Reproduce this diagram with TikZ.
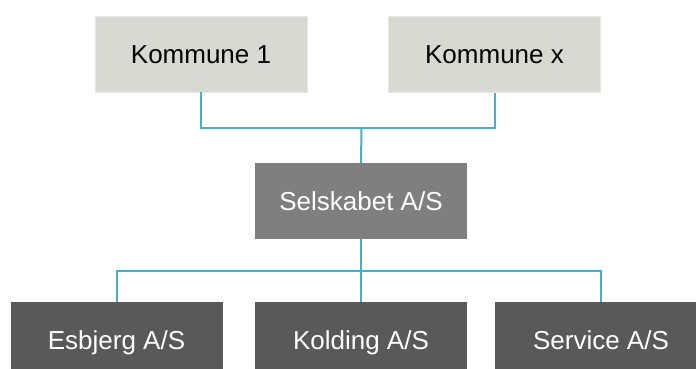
\documentclass[tikz,border=0pt]{standalone}
\usepackage{fontspec}
\setmainfont{Liberation Sans}
\definecolor{topfill}{HTML}{D9D9D3}
\definecolor{topline}{HTML}{E8E8E3}
\definecolor{midfill}{HTML}{7F7F7F}
\definecolor{botfill}{HTML}{595959}
\definecolor{linkblue}{HTML}{4BACC6}
\begin{document}
\begin{tikzpicture}[x=1pt,y=-1pt,
  box/.style={rectangle, minimum width=212pt, minimum height=76pt, inner sep=0pt,
    font=\fontsize{26}{30}\selectfont, text height=18.6pt, text depth=0pt},
  topbox/.style={box, fill=topfill, draw=topline, line width=0.8pt, text=black},
  midbox/.style={box, fill=midfill, text=white},
  botbox/.style={box, fill=botfill, text=white},
  link/.style={draw=linkblue, line width=2pt}]
\useasboundingbox (0,0) rectangle (696,369);
\clip (0,0) rectangle (696,369);
\node[topbox] (k1) at (201,54) {Kommune 1};
\node[topbox] (kx) at (494.5,54.5) {Kommune x};
\node[midbox] (sel) at (361,201) {Selskabet A/S};
\node[botbox] (es) at (116.5,340) {Esbjerg A/S};
\node[botbox] (ko) at (361,340) {Kolding A/S};
\node[botbox] (se) at (601,340) {Service A/S};
\coordinate (j1) at (361.5,128);
\coordinate (j2) at (361.5,271);
\draw[link] (k1.south) |- (j1) -| (kx.south);
\draw[link] (j1) -- (sel.north);
\draw[link] (es.north) |- (j2) -| (se.north);
\draw[link] (sel.south) -- (ko.north);
\end{tikzpicture}
\end{document}
